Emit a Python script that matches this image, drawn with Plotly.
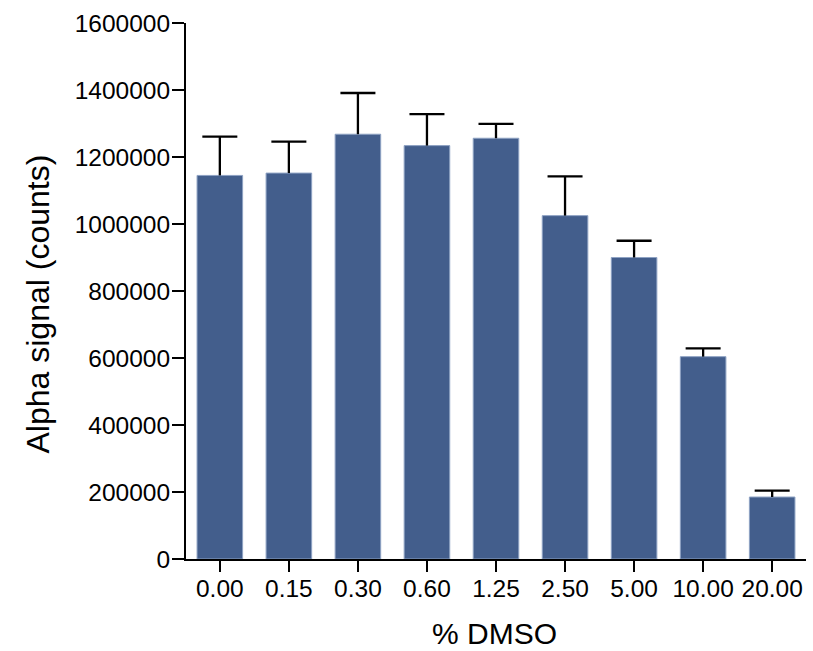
import plotly.graph_objects as go

categories = ["0.00", "0.15", "0.30", "0.60", "1.25", "2.50", "5.00", "10.00", "20.00"]
means = [1145000, 1152000, 1268000, 1234000, 1256000, 1025000, 900000, 604000, 185000]
errors_up = [116000, 94000, 123000, 94000, 43000, 117000, 50000, 25000, 19000]
y_ticks = [0, 200000, 400000, 600000, 800000, 1000000, 1200000, 1400000, 1600000]

font_family = "Liberation Sans, Arial, sans-serif"

# error stems (upper only) built from the data arrays
stem_x, stem_y = [], []
for c, m, e in zip(categories, means, errors_up):
    stem_x += [c, c, None]
    stem_y += [m, m + e, None]
cap_y = [m + e for m, e in zip(means, errors_up)]

fig = go.Figure()
fig.add_trace(
    go.Bar(
        x=categories,
        y=means,
        width=0.66,
        marker=dict(color="#435e8c", line=dict(color="#8ea2c3", width=1)),
    )
)
fig.add_trace(
    go.Scatter(
        x=stem_x,
        y=stem_y,
        mode="lines",
        line=dict(color="black", width=2.3),
        hoverinfo="skip",
        cliponaxis=False,
    )
)
fig.add_trace(
    go.Scatter(
        x=categories,
        y=cap_y,
        mode="markers",
        marker=dict(symbol="line-ew", size=25, line=dict(color="black", width=2.3)),
        hoverinfo="skip",
        cliponaxis=False,
    )
)

fig.update_layout(
    width=813,
    height=651,
    margin=dict(l=186, r=7, t=23, b=92),
    plot_bgcolor="white",
    paper_bgcolor="white",
    showlegend=False,
    font=dict(family=font_family, color="black"),
    xaxis=dict(
        type="category",
        range=[-0.49, 8.49],
        showline=True,
        linecolor="black",
        linewidth=2,
        ticks="outside",
        ticklen=11,
        tickwidth=2,
        tickcolor="black",
        tickfont=dict(size=24.5, family=font_family, color="black"),
        ticklabelstandoff=-4,
        showgrid=False,
        zeroline=False,
        automargin=False,
    ),
    yaxis=dict(
        range=[0, 1600000],
        tickvals=y_ticks,
        ticktext=[str(v) for v in y_ticks],
        showline=True,
        linecolor="black",
        linewidth=2,
        ticks="outside",
        ticklen=12,
        tickwidth=2,
        tickcolor="black",
        tickfont=dict(size=24.5, family=font_family, color="black"),
        ticklabelstandoff=-3,
        showgrid=False,
        zeroline=False,
        automargin=False,
    ),
    annotations=[
        dict(
            text="Alpha signal (counts)",
            xref="paper", yref="paper",
            x=(37 - 186) / (813 - 186 - 7),
            y=(651 - 92 - 304.5) / (651 - 23 - 92),
            xanchor="center", yanchor="middle",
            textangle=-90,
            showarrow=False,
            font=dict(size=32, family=font_family, color="black"),
        ),
        dict(
            text="% DMSO",
            xref="paper", yref="paper",
            x=(494 - 186) / (813 - 186 - 7),
            y=(651 - 92 - 633) / (651 - 23 - 92),
            xanchor="center", yanchor="middle",
            showarrow=False,
            font=dict(size=30, family=font_family, color="black"),
        ),
    ],
)

fig.write_html("out.html")
